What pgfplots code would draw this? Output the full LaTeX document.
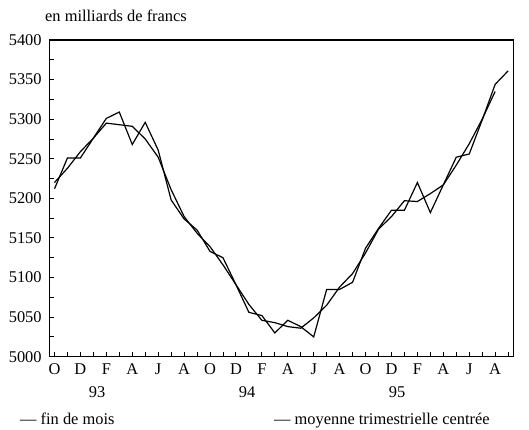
\documentclass[border=0pt]{standalone}
\usepackage{fontspec}
\setmainfont{Liberation Serif}
\usepackage{pgfplots}
\pgfplotsset{compat=1.18}
\begin{document}
\fontsize{16.4bp}{19bp}\selectfont
\begin{tikzpicture}
\path[use as bounding box] (0,0) rectangle (529bp,430bp);
\begin{axis}[
  at={(49.3bp,73.3bp)}, anchor=south west,
  scale only axis, width=464bp, height=316.7bp,
  xmin=-0.4, xmax=35.4, ymin=5000, ymax=5400,
  axis line style={line width=1.1bp},
  xtick={0,2,...,34}, minor xtick={1,3,...,35},
  xticklabels={O,D,F,A,J,A,O,D,F,A,J,A,O,D,F,A,J,A},
  ytick={5000,5050,...,5400}, minor ytick={5025,5075,...,5375},
  tick align=inside, xtick pos=bottom, ytick pos=left,
  major tick length=5bp, minor tick length=5bp,
  tick style={line width=0.9bp, black},
  /pgf/number format/assume math mode=true,
  /pgf/number format/1000 sep={},
  ticklabel style={font=\fontsize{16.4bp}{19bp}\selectfont},
  xticklabel style={yshift=-1bp},
  yticklabel style={xshift=-2bp},
  clip=false,
]
\addplot[black, line width=1.2bp] coordinates {
(0,5212)(1,5251)(2,5251)(3,5276)(4,5301)(5,5309)(6,5268)(7,5296)(8,5261)(9,5198)
(10,5174)(11,5160)(12,5133)(13,5125)(14,5091)(15,5056)(16,5052)(17,5030)(18,5046)(19,5038)
(20,5025)(21,5085)(22,5085)(23,5094)(24,5137)(25,5162)(26,5185)(27,5185)(28,5220)(29,5182)
(30,5217)(31,5252)(32,5256)(33,5299)(34,5344)(35,5361)};
\addplot[black, line width=1.2bp] coordinates {
(0,5220)(1,5238)(2,5259)(3,5276)(4,5295)(5,5293)(6,5291)(7,5275)(8,5252)(9,5211)
(10,5177)(11,5156)(12,5139)(13,5116)(14,5091)(15,5066)(16,5046)(17,5043)(18,5038)(19,5036)
(20,5049)(21,5065)(22,5088)(23,5105)(24,5131)(25,5161)(26,5177)(27,5197)(28,5196)(29,5206)
(30,5217)(31,5242)(32,5269)(33,5300)(34,5335)};
\end{axis}
\node[anchor=base west, inner sep=0] at (45bp,408bp) {en milliards de francs};
\node[anchor=base, inner sep=0] at (97bp,32.5bp) {93};
\node[anchor=base, inner sep=0] at (247bp,32.5bp) {94};
\node[anchor=base, inner sep=0] at (397bp,32.5bp) {95};
\node[anchor=base west, inner sep=0] at (20bp,6bp) {— fin de mois};
\node[anchor=base west, inner sep=0] at (274bp,6bp) {— moyenne trimestrielle centrée};
\end{tikzpicture}
\end{document}
